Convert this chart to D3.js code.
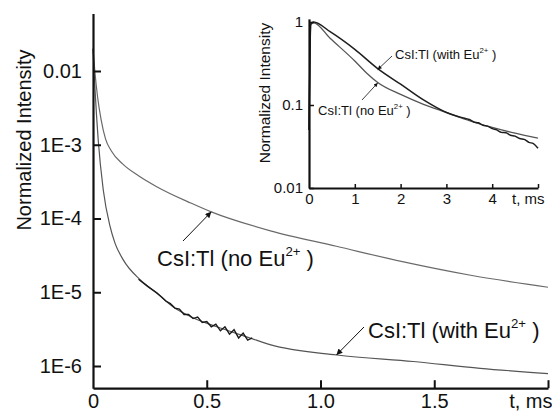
<!DOCTYPE html>
<html>
<head>
<meta charset="utf-8">
<script src="https://cdn.jsdelivr.net/npm/d3@7"></script>
<style>
  body { margin: 0; background: #fff; }
  svg { display: block; font-family: "Liberation Sans", Arial, sans-serif; }
</style>
</head>
<body>
<svg id="chart" width="552" height="414"></svg>
<script>
// main panel: decay curves (t in ms, normalized intensity)
const mainTimeNoEu = [0, 0.008, 0.02, 0.035, 0.055, 0.08, 0.13, 0.2, 0.28, 0.43, 0.52, 0.78, 1.07, 1.36, 1.66, 2.0];
const mainIntNoEu = [0.02, 0.01, 4.47e-3, 2.24e-3, 1.2e-3, 8.3e-4, 5.5e-4, 3.8e-4, 2.7e-4, 1.62e-4, 1.23e-4, 6.8e-5, 4.2e-5, 2.6e-5, 1.7e-5, 1.17e-5];

const mainTimeWithEu = [0, 0.009, 0.023, 0.045, 0.075, 0.097, 0.133, 0.207, 0.28, 0.353, 0.427, 0.544, 0.69, 0.778, 1.072, 1.407, 1.702, 2.0];
const mainIntWithEu = [0.02, 5.5e-3, 1.15e-3, 2.45e-4, 7.8e-5, 4.6e-5, 2.75e-5, 1.48e-5, 9.8e-6, 6.3e-6, 4.7e-6, 3.4e-6, 2.4e-6, 1.95e-6, 1.41e-6, 1.15e-6, 9.3e-7, 7.9e-7];

// noisy stretch of the Eu-doped curve
const mainTimeNoise = [0.2, 0.24, 0.28, 0.3, 0.32, 0.34, 0.36, 0.38, 0.4, 0.42, 0.44, 0.46, 0.48, 0.5, 0.52, 0.54, 0.56, 0.58, 0.6, 0.62, 0.64, 0.66, 0.68, 0.7];
const mainIntNoise = [1.5e-5, 1.2e-5, 9.8e-6, 8.7e-6, 7.6e-6, 7.0e-6, 6.1e-6, 5.9e-6, 5.0e-6, 5.0e-6, 4.4e-6, 4.6e-6, 3.9e-6, 4.0e-6, 3.4e-6, 3.7e-6, 3.0e-6, 3.4e-6, 2.7e-6, 3.1e-6, 2.4e-6, 2.8e-6, 2.25e-6, 2.4e-6];

const mainYTicks = [1e-2, 1e-3, 1e-4, 1e-5, 1e-6];
const mainYLabels = ["0.01", "1E-3", "1E-4", "1E-5", "1E-6"];
const mainXTicks = [0, 0.5, 1.0, 1.5, 2.0];
const mainXLabels = ["0", "0.5", "1.0", "1.5", "t, ms"];

// inset: normalized to peak
const insetTimeWithEu = [0, 0.04, 0.1, 0.46, 1.0, 1.5, 2.0, 2.5, 3.0, 3.2, 3.4, 3.5, 3.6, 3.7, 3.8, 3.9, 4.0, 4.1, 4.2, 4.3, 4.4, 4.5, 4.6, 4.7, 4.8, 4.9, 5.0];
const insetIntWithEu = [0.05, 0.95, 1.0, 0.764, 0.468, 0.275, 0.178, 0.115, 0.0813, 0.0741, 0.0692, 0.0668, 0.0624, 0.061, 0.0569, 0.0556, 0.0519, 0.0501, 0.0468, 0.0462, 0.0432, 0.0422, 0.0394, 0.0385, 0.0355, 0.0343, 0.0302];
const insetTimeNoEu = [0, 0.04, 0.1, 0.46, 1.0, 1.25, 1.5, 2.0, 2.5, 3.0, 3.5, 4.0, 4.5, 5.0];
const insetIntNoEu = [0.05, 0.93, 0.977, 0.637, 0.339, 0.245, 0.187, 0.134, 0.102, 0.0813, 0.0646, 0.0537, 0.0457, 0.0398];

const insetYTicks = [1, 0.1, 0.01];
const insetYLabels = ["1", "0.1", "0.01"];
const insetXTicks = [0, 1, 2, 3, 4, 5];
const insetXLabels = ["0", "1", "2", "3", "4", "t, ms"];

const svg = d3.select("#chart");
const ink = "#111";

const zip = (ts, vs) => ts.map((t, i) => [t, vs[i]]);

svg.append("defs").selectAll("marker")
  .data([["arrowBig", 9, 6], ["arrowSmall", 6, 4]])
  .join("marker")
  .attr("id", (d) => d[0])
  .attr("viewBox", "0 0 10 10")
  .attr("refX", 10)
  .attr("refY", 5)
  .attr("markerUnits", "userSpaceOnUse")
  .attr("markerWidth", (d) => d[1])
  .attr("markerHeight", (d) => d[2])
  .attr("orient", "auto")
  .append("path")
  .attr("d", "M0,0 L10,5 L0,10 Z")
  .attr("fill", ink);

// ---------- main panel ----------
const decade = d3.scaleLog().domain([1e-6, 1e-2]).range([366, 71]);
const yMain = d3.scaleLog().domain([5e-7, 0.06]).range([decade(5e-7), decade(0.06)]);
const xMain = d3.scaleLinear().domain([0, 2]).range([93, 548]);

const lineMain = d3.line()
  .x((d) => xMain(d[0]))
  .y((d) => yMain(d[1]))
  .curve(d3.curveMonotoneX);

svg.append("path")
  .attr("d", lineMain(zip(mainTimeNoEu, mainIntNoEu)))
  .attr("fill", "none")
  .attr("stroke", "#6a6a6a")
  .attr("stroke-width", 1.2);

svg.append("path")
  .attr("d", lineMain(zip(mainTimeWithEu, mainIntWithEu)))
  .attr("fill", "none")
  .attr("stroke", "#555")
  .attr("stroke-width", 1.2);

svg.append("path")
  .attr("d", d3.line().x((d) => xMain(d[0])).y((d) => yMain(d[1]))(zip(mainTimeNoise, mainIntNoise)))
  .attr("fill", "none")
  .attr("stroke", "#1a1a1a")
  .attr("stroke-width", 1.4);

const styleAxis = (g, size) => {
  g.attr("font-family", null).attr("font-size", size);
  g.select(".domain").attr("stroke", ink).attr("stroke-width", 2.2);
  g.selectAll(".tick line").attr("stroke", ink).attr("stroke-width", 2);
  g.selectAll(".tick text").attr("fill", ink);
};

svg.append("g")
  .attr("transform", `translate(${xMain(0)},0)`)
  .call(d3.axisLeft(yMain).tickValues(mainYTicks)
    .tickFormat((d, i) => mainYLabels[i]).tickSizeInner(-8).tickSizeOuter(0).tickPadding(11))
  .call((g) => styleAxis(g, 20));

svg.append("g")
  .attr("transform", `translate(0,${yMain(5e-7)})`)
  .call(d3.axisBottom(xMain).tickValues(mainXTicks)
    .tickFormat((d, i) => mainXLabels[i]).tickSizeInner(-8).tickSizeOuter(0).tickPadding(6))
  .call((g) => styleAxis(g, 20))
  .call((g) => g.selectAll(".tick text").filter((d) => d === 2.0)
    .attr("text-anchor", "end").attr("x", 4))
  .call((g) => g.selectAll(".tick line").filter((d) => d === 0).remove());

svg.append("text")
  .attr("transform", "translate(31,140) rotate(-90)")
  .attr("text-anchor", "middle")
  .attr("font-size", 20)
  .attr("fill", ink)
  .text("Normalized Intensity");

// ---------- inset ----------
const xInset = d3.scaleLinear().domain([0, 5]).range([309, 538]);
const yInsetBase = d3.scaleLog().domain([0.01, 1]).range([188, 22]);
const yInset = d3.scaleLog().domain([0.01, 1.09]).range([188, yInsetBase(1.09)]);

const lineInset = d3.line()
  .x((d) => xInset(d[0]))
  .y((d) => yInset(d[1]))
  .curve(d3.curveMonotoneX);

svg.append("path")
  .attr("d", lineInset(zip(insetTimeNoEu, insetIntNoEu)))
  .attr("fill", "none")
  .attr("stroke", "#555")
  .attr("stroke-width", 1.3);

svg.append("path")
  .attr("d", lineInset(zip(insetTimeWithEu, insetIntWithEu)))
  .attr("fill", "none")
  .attr("stroke", "#1e1e1e")
  .attr("stroke-width", 1.5);

svg.append("g")
  .attr("transform", `translate(${xInset(0)},0)`)
  .call(d3.axisLeft(yInset).tickValues(insetYTicks)
    .tickFormat((d, i) => insetYLabels[i]).tickSizeInner(-5).tickSizeOuter(0).tickPadding(6))
  .call((g) => styleAxis(g, 15))
  .call((g) => g.selectAll(".tick line").attr("stroke-width", 1.5));

svg.append("g")
  .attr("transform", `translate(0,${yInset(0.01)})`)
  .call(d3.axisBottom(xInset).tickValues(insetXTicks)
    .tickFormat((d, i) => insetXLabels[i]).tickSizeInner(-4).tickSizeOuter(0).tickPadding(5))
  .call((g) => styleAxis(g, 15))
  .call((g) => g.select(".domain").attr("stroke-width", 2))
  .call((g) => g.selectAll(".tick line").attr("stroke-width", 1.5))
  .call((g) => g.selectAll(".tick line").filter((d) => d === 0).remove())
  .call((g) => g.selectAll(".tick text").filter((d) => d === 5)
    .attr("text-anchor", "end").attr("x", 6));

svg.append("text")
  .attr("transform", "translate(270,93) rotate(-90)")
  .attr("text-anchor", "middle")
  .attr("font-size", 15.5)
  .attr("fill", ink)
  .text("Normalized Intensity");

// ---------- annotations ----------
const label = (x, y, size, name) => {
  const t = svg.append("text")
    .attr("x", x)
    .attr("y", y)
    .attr("font-size", size)
    .attr("fill", ink);
  t.append("tspan").text(`CsI:Tl (${name} Eu`);
  t.append("tspan")
    .attr("font-size", size * 0.6)
    .attr("dy", -size * 0.45)
    .text("2+");
  t.append("tspan")
    .attr("dy", size * 0.45)
    .text(" )");
};

const arrow = (x1, y1, x2, y2, marker, width) => {
  svg.append("line")
    .attr("x1", x1).attr("y1", y1)
    .attr("x2", x2).attr("y2", y2)
    .attr("stroke", ink)
    .attr("stroke-width", width)
    .attr("marker-end", `url(#${marker})`);
};

label(157, 266, 22, "no");
arrow(183, 241, xMain(0.52), yMain(1.23e-4), "arrowBig", 1);
label(368, 338, 22, "with");
arrow(364, 327, xMain(1.07), yMain(1.41e-6), "arrowBig", 1);

label(395, 59, 13, "with");
arrow(392, 56, xInset(1.5), yInset(0.275) + 1, "arrowSmall", 0.8);
label(318, 115, 13, "no");
arrow(362, 100, xInset(1.5), yInset(0.187) + 0.5, "arrowSmall", 0.8);
</script>
</body>
</html>
